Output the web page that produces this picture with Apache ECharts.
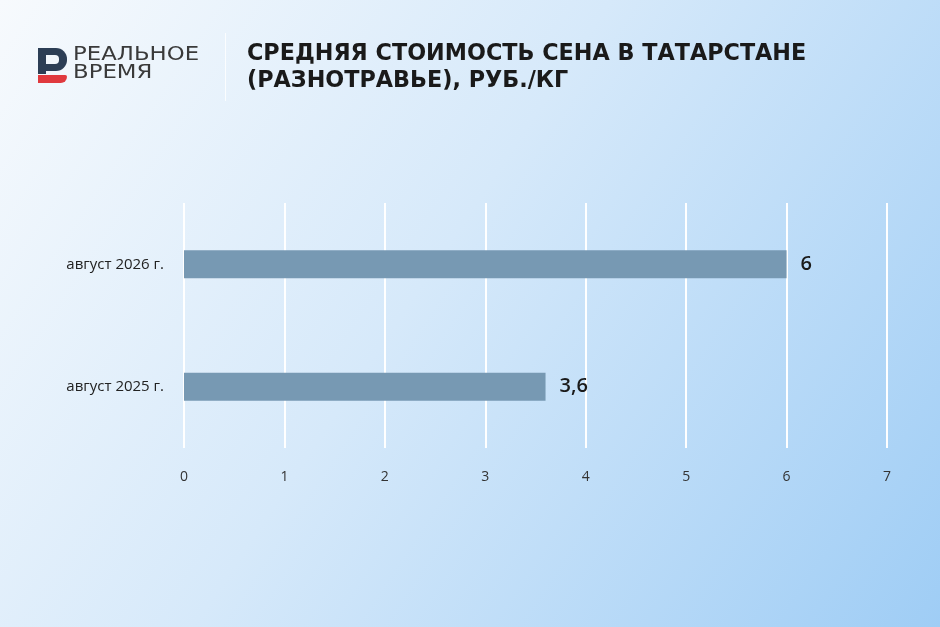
<!DOCTYPE html>
<html><head><meta charset="utf-8">
<script src="https://cdn.jsdelivr.net/npm/echarts@6/dist/echarts.min.js"></script>
<style>html,body{margin:0;padding:0;}#c{width:940px;height:627px;}</style>
</head><body><div id="c"></div>
<script>
const categories = ['август 2025 г.', 'август 2026 г.'];
const values = [3.6, 6];
const valueLabels = ['3,6', '6'];
const xTicks = [0, 1, 2, 3, 4, 5, 6, 7];

const chart = echarts.init(document.getElementById('c'));
chart.setOption({
  backgroundColor: {
    type: 'linear', x: 0, y: 0, x2: 1, y2: 1,
    colorStops: [
      {offset: 0, color: '#f7fafd'},
      {offset: 0.45, color: '#d6e9fa'},
      {offset: 1, color: '#9fcdf5'}
    ]
  },
  graphic: [
    // logo
    {type: 'rect', shape: {x: 38, y: 48, width: 29, height: 23, r: [0, 11, 11, 0]}, style: {fill: '#2c3e55'}},
    {type: 'rect', shape: {x: 38, y: 48, width: 8, height: 26}, style: {fill: '#2c3e55'}},
    {type: 'rect', shape: {x: 46, y: 55, width: 13, height: 9, r: [0, 4, 4, 0]}, style: {fill: '#f1f6fc'}},
    {type: 'rect', shape: {x: 38, y: 75, width: 29, height: 8, r: [0, 2, 7, 0]}, style: {fill: '#e0393e'}},
    {type: 'text', x: 73, y: 46, scaleX: 1.2, style: {text: 'РЕАЛЬНОЕ', font: '400 19px "DejaVu Sans", sans-serif', fill: '#3a3a3a'}},
    {type: 'text', x: 73, y: 64, scaleX: 1.2, style: {text: 'ВРЕМЯ', font: '400 19px "DejaVu Sans", sans-serif', fill: '#3a3a3a'}},
    {type: 'rect', shape: {x: 225, y: 33, width: 1, height: 68}, style: {fill: 'rgba(255,255,255,0.8)'}},
    {type: 'text', left: 247, top: 41, style: {text: 'СРЕДНЯЯ СТОИМОСТЬ СЕНА В ТАТАРСТАНЕ\n(РАЗНОТРАВЬЕ), РУБ./КГ', font: '700 22.3px "DejaVu Sans", sans-serif', fill: '#1a1a1a', lineHeight: 27}}
  ],
  grid: {left: 184, right: 53, top: 203, bottom: 179, containLabel: false},
  xAxis: {
    type: 'value', min: 0, max: 7, interval: 1,
    axisLine: {show: false}, axisTick: {show: false},
    splitLine: {lineStyle: {color: '#ffffff', width: 2}},
    axisLabel: {margin: 22, color: '#333', fontSize: 14, fontFamily: 'Open Sans',
      formatter: v => xTicks.includes(v) ? String(v) : ''}
  },
  yAxis: {
    type: 'category', data: categories,
    axisLine: {show: false}, axisTick: {show: false},
    axisLabel: {margin: 20, color: '#222', fontSize: 15, fontFamily: 'Open Sans'}
  },
  series: [{
    type: 'bar', data: values, barWidth: 28,
    itemStyle: {color: '#7799b3'},
    label: {show: true, position: 'right', distance: 14, color: '#1a1a1a',
      fontSize: 20, fontWeight: 600, fontFamily: 'Open Sans',
      formatter: p => valueLabels[p.dataIndex]}
  }]
});
</script></body></html>
